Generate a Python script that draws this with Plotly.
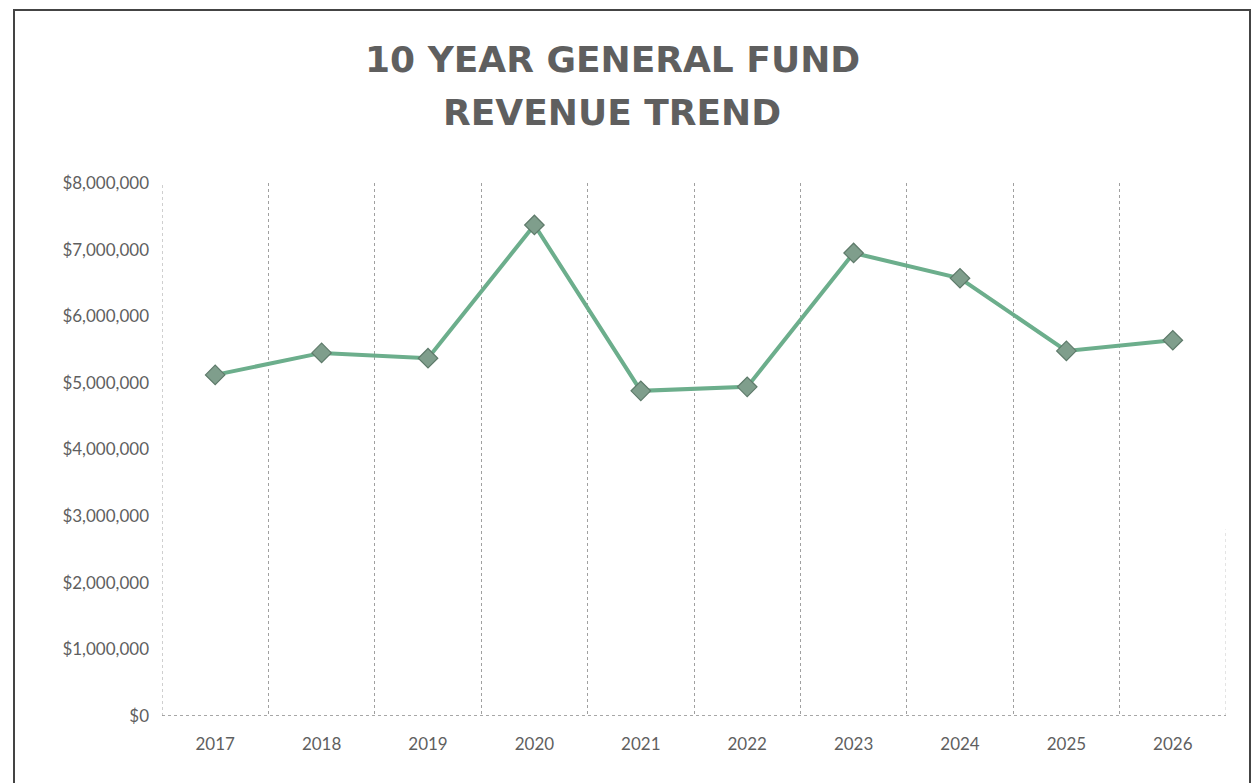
import plotly.graph_objects as go

# General fund revenue by fiscal year
years = [2017, 2018, 2019, 2020, 2021, 2022, 2023, 2024, 2025, 2026]
revenue = [5120000, 5450000, 5370000, 7370000, 4880000,
           4940000, 6950000, 6570000, 5480000, 5640000]

y_ticks = [0, 1000000, 2000000, 3000000, 4000000,
           5000000, 6000000, 7000000, 8000000]
y_labels = ["$0", "$1,000,000", "$2,000,000", "$3,000,000", "$4,000,000",
            "$5,000,000", "$6,000,000", "$7,000,000", "$8,000,000"]

title_lines = ["10 YEAR GENERAL FUND", "REVENUE TREND"]

W, H = 1253, 783
L, R, T, B = 162, 27, 183, 67
pw, ph = W - L - R, H - T - B

def px_x(p):
    return (p - L) / pw

def px_y(p):
    return (H - B - p) / ph

text_grey = "#5f5f5f"
grid_grey = "#a0a0a0"
label_font = "Lato, 'Open Sans', sans-serif"
title_font = "'DejaVu Sans', 'Open Sans', sans-serif"

fig = go.Figure()
fig.add_trace(go.Scatter(
    x=years, y=revenue, mode="lines+markers",
    line=dict(color="#6cae8c", width=4),
    marker=dict(symbol="diamond", size=15, color="#7f9e8c",
                line=dict(color="#5e7a6a", width=1.2)),
    hoverinfo="x+y", showlegend=False,
))

# two-line chart title
for text, cy in zip(title_lines, [60, 112]):
    fig.add_annotation(
        text=text, xref="paper", yref="paper",
        x=px_x(612), y=px_y(cy), xanchor="center", yanchor="middle",
        showarrow=False,
        font=dict(family=title_font, size=36, color=text_grey, weight="bold"),
    )

fig.update_layout(
    width=W, height=H,
    margin=dict(l=L, r=R, t=T, b=B),
    paper_bgcolor="white", plot_bgcolor="white",
    xaxis=dict(
        range=[2016.5, 2026.5], tickmode="array", tickvals=years,
        ticktext=[str(y) for y in years], showgrid=False, zeroline=False,
        showline=False, ticks="", ticklabelstandoff=16,
        tickfont=dict(family=label_font, size=17, color=text_grey),
        minor=dict(tick0=2016.5, dtick=1, showgrid=True,
                   gridcolor=grid_grey, griddash="dot", gridwidth=1),
    ),
    yaxis=dict(
        range=[0, 8000000], tickmode="array", tickvals=y_ticks,
        ticktext=y_labels, showgrid=False, zeroline=False, showline=False,
        ticks="", ticklabelstandoff=12,
        tickfont=dict(family=label_font, size=17, color=text_grey),
    ),
    shapes=[
        # dotted edges of the first and last category
        dict(type="line", xref="x", yref="paper", x0=2016.5, x1=2016.5,
             y0=0, y1=1, line=dict(color=grid_grey, width=1, dash="dot")),
        dict(type="line", xref="x", yref="paper", x0=2026.5, x1=2026.5,
             y0=0, y1=0.35, line=dict(color="#c8c8c8", width=1, dash="dot")),
        # dotted baseline along $0
        dict(type="line", xref="paper", yref="y", x0=0, x1=1, y0=0, y1=0,
             line=dict(color="#8a8a8a", width=1.5, dash="dot")),
        # outer chart border
        dict(type="rect", xref="paper", yref="paper",
             x0=px_x(14), x1=px_x(1250), y0=px_y(795), y1=px_y(10),
             line=dict(color="#444444", width=2), layer="above"),
    ],
)

fig.write_html("out.html")
